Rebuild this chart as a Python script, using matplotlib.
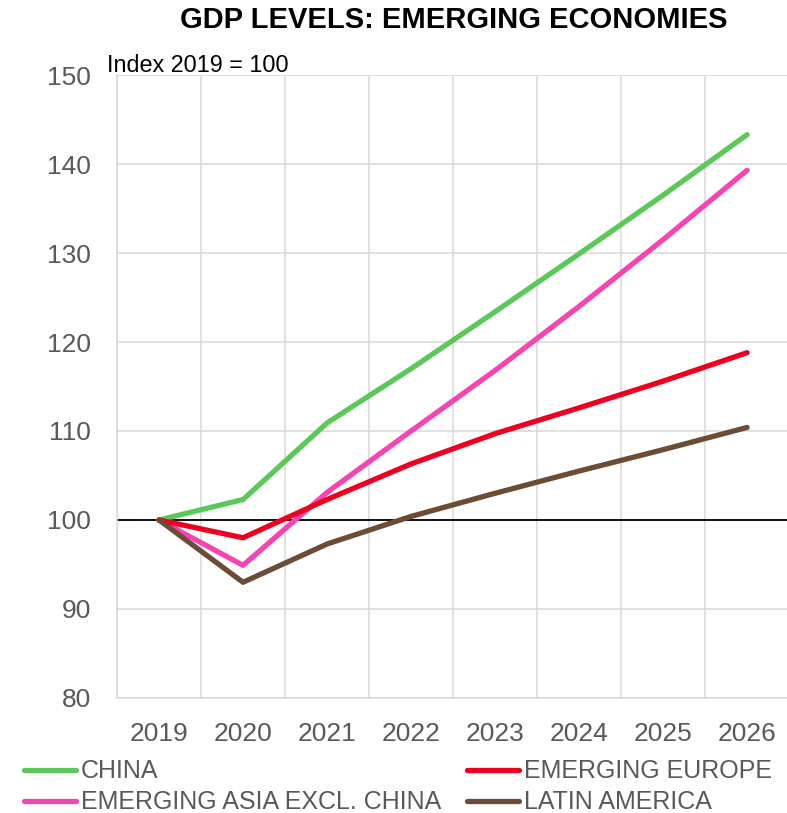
import numpy as np
import matplotlib
matplotlib.use('Agg')
from matplotlib import pyplot as plt
from matplotlib.ticker import FixedLocator

# Data (index 2019 = 100)
years = ['2019', '2020', '2021', '2022', '2023', '2024', '2025', '2026']
china = [100, 102.3, 110.9, 117.0, 123.4, 129.9, 136.5, 143.3]
europe = [100, 98.0, 102.3, 106.3, 109.7, 112.6, 115.6, 118.8]
asia_ex_china = [100, 94.9, 103.1, 110.0, 116.8, 124.0, 131.5, 139.3]
latam = [100, 93.0, 97.3, 100.4, 103.0, 105.5, 107.9, 110.4]

plt.rcParams['font.family'] = ['Liberation Sans', 'DejaVu Sans']

fig = plt.figure(figsize=(7.87, 8.13), dpi=100)
ax = fig.add_axes([0.1487, 0.1415, 0.854, 0.7662])

x = np.arange(len(years))
# plotting order = legend order (legend fills column by column)
ax.plot(x, china, color='#5cc85a', lw=3.8, solid_capstyle='round', label='CHINA', zorder=3)
ax.plot(x, asia_ex_china, color='#f545b0', lw=3.8, solid_capstyle='round', label='EMERGING ASIA EXCL. CHINA', zorder=3)
ax.plot(x, europe, color='#ee0020', lw=3.8, solid_capstyle='round', label='EMERGING EUROPE', zorder=3)
ax.plot(x, latam, color='#6b4c36', lw=3.8, solid_capstyle='round', label='LATIN AMERICA', zorder=3)

ax.axhline(100, color='black', lw=1.3, zorder=2)

ax.set_xlim(-0.5, len(years) - 0.5)
ax.set_ylim(80, 150)
ax.set_yticks(np.arange(80, 151, 10))
ax.set_xticks(x)
ax.set_xticklabels(years)
ax.xaxis.set_minor_locator(FixedLocator(np.arange(-0.5, len(years), 1.0)))

ax.grid(True, which='minor', axis='x', color='#d9d9d9', lw=1.1)
ax.grid(True, which='major', axis='y', color='#d9d9d9', lw=1.1)
ax.set_axisbelow(True)

for s in ['top', 'right']:
    ax.spines[s].set_visible(False)
for s in ['left', 'bottom']:
    ax.spines[s].set_color('#d9d9d9')
    ax.spines[s].set_linewidth(1.1)

ax.tick_params(axis='both', which='both', length=0, labelsize=19, labelcolor='#595959')
ax.tick_params(axis='x', pad=17)
ax.tick_params(axis='y', pad=19)

fig.text(0.576, 0.975, 'GDP LEVELS: EMERGING ECONOMIES', ha='center', va='center',
         fontsize=21, fontweight='bold')
fig.text(0.136, 0.919, 'Index 2019 = 100', ha='left', va='center', fontsize=16.8)

leg = fig.legend(loc='upper left', bbox_to_anchor=(0.03, 0.066), ncol=2, frameon=False,
                 fontsize=18, handlelength=2.1, handletextpad=0.2, columnspacing=1.02,
                 labelspacing=0.28, borderaxespad=0, borderpad=0)
for t in leg.get_texts():
    t.set_color('#595959')

fig.savefig('out.png', dpi=100)
